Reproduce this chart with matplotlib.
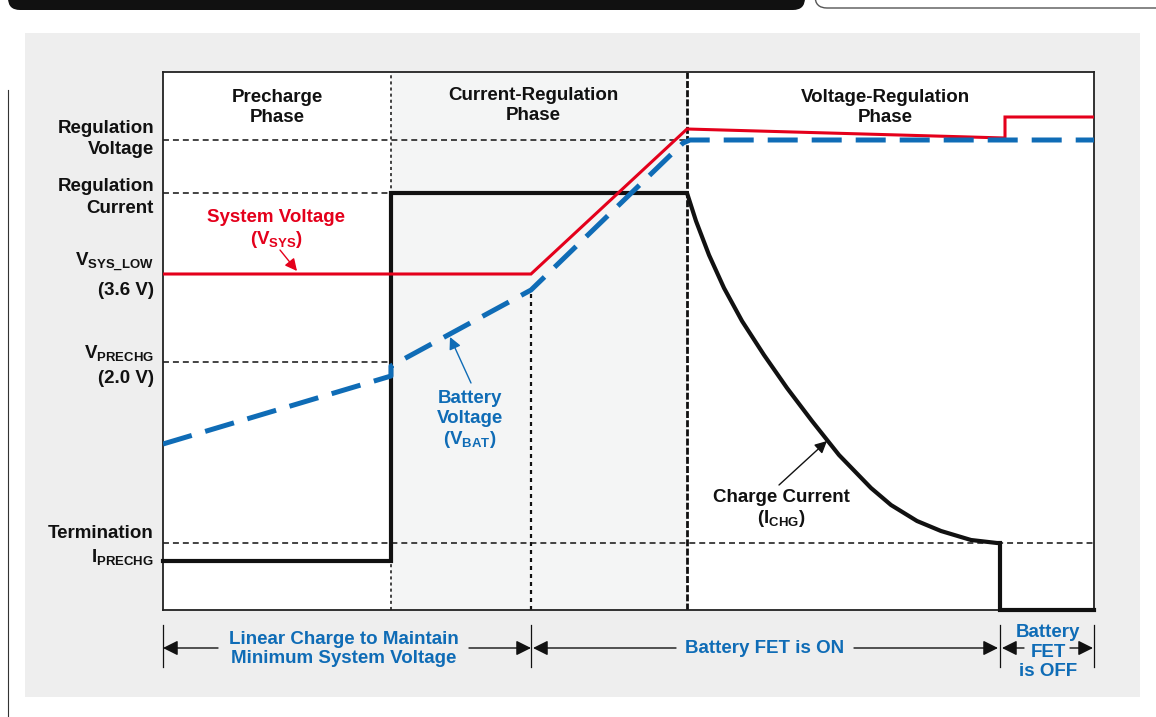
import matplotlib.pyplot as plt
from matplotlib.patches import Rectangle, FancyBboxPatch

# Eixo de tempo (unidades arbitrárias) e níveis (unidades arbitrárias)
fases_t = [0, 228, 368, 524, 837, 931]

t_vsys = [0, 368, 524, 842, 842, 931]
v_sys = [336, 336, 481, 472, 493, 493]

t_vbat = [0, 228, 228, 368, 520, 527, 931]
v_bat = [166, 234, 244, 320, 467, 470, 470]

t_ichg = [0, 228, 228, 524, 533, 546, 561, 579, 601, 624, 649, 676,
          708, 728, 754, 778, 808, 834, 837, 837, 931]
i_chg = [49, 49, 417, 417, 389, 355, 322, 289, 255, 222, 189, 155,
         122, 105, 89, 79, 70, 67, 67, 0, 0]

# Níveis de referência
nivel_reg_v = 470
nivel_reg_i = 417
nivel_vprechg = 248
nivel_term = 67

AZUL = '#0f6cb6'
VERMELHO = '#e4001b'
PRETO = '#111111'

plt.rcParams['font.family'] = ['Liberation Sans', 'DejaVu Sans']
plt.rcParams['font.weight'] = 'bold'
plt.rcParams['mathtext.fontset'] = 'custom'
plt.rcParams['mathtext.rm'] = 'Liberation Sans:bold'
plt.rcParams['mathtext.it'] = 'Liberation Sans:bold'
plt.rcParams['mathtext.bf'] = 'Liberation Sans:bold'
plt.rcParams['mathtext.default'] = 'rm'

FS = 13.5


def linhas(ax, x, ys, textos, cor=PRETO, ha='center', fs=FS):
    # escreve cada linha separadamente, alinhada pela linha de base
    for y, s in zip(ys, textos):
        ax.text(x, y, s, ha=ha, va='baseline', color=cor, fontsize=fs,
                fontweight='bold', clip_on=False)


def seta(ax, x0, y0, x1, y1, cor, lw=1.0, ms=12, head='0.6', width='0.3'):
    ax.annotate('', xy=(x1, y1), xytext=(x0, y0), annotation_clip=False,
                arrowprops=dict(arrowstyle='-|>,head_length=%s,head_width=%s' % (head, width),
                                color=cor, lw=lw, mutation_scale=ms,
                                shrinkA=0, shrinkB=0))


def fundo(fig):
    bg = fig.add_axes([0, 0, 1, 1])
    bg.set_xlim(0, 1156)
    bg.set_ylim(717, 0)
    bg.axis('off')
    bg.add_patch(Rectangle((25, 33), 1115, 664, fc='#eeeeee', ec='none'))
    bg.add_patch(FancyBboxPatch((8, -40), 797, 50,
                                boxstyle='round,pad=0,rounding_size=12',
                                fc='#111111', ec='none'))
    bg.add_patch(FancyBboxPatch((815, -40), 400, 48,
                                boxstyle='round,pad=0,rounding_size=12',
                                fc='none', ec='#555555', lw=1))
    bg.plot([8, 8], [90, 717], color='#333333', lw=0.8)


def grafico():
    fig = plt.figure(figsize=(11.56, 7.17), dpi=100)
    fundo(fig)

    ax = fig.add_axes([163 / 1156, 107 / 717, 931 / 1156, 538 / 717])
    ax.set_xlim(0, 931)
    ax.set_ylim(0, 538)
    ax.set_xticks([])
    ax.set_yticks([])
    for s in ax.spines.values():
        s.set_color('#222222')
        s.set_linewidth(1.3)

    # fase de regulação de corrente sombreada
    ax.axvspan(fases_t[1], fases_t[3], color='#f4f5f5', zorder=0, lw=0)

    # linhas de referência tracejadas
    ax.plot([0, fases_t[3]], [nivel_reg_v] * 2, color=PRETO, lw=1.1, dashes=(3.9, 2.6))
    ax.plot([0, fases_t[1]], [nivel_reg_i] * 2, color=PRETO, lw=1.1, dashes=(3.9, 2.6))
    ax.plot([0, fases_t[1]], [nivel_vprechg] * 2, color=PRETO, lw=1.1, dashes=(3.9, 2.6))
    ax.plot([0, fases_t[5]], [nivel_term] * 2, color=PRETO, lw=1.1, dashes=(3.9, 2.6))

    # separadores de fase
    ax.axvline(fases_t[1], color=PRETO, lw=1.1, dashes=(2, 2))
    ax.axvline(fases_t[3], color=PRETO, lw=2, dashes=(2.5, 0.8))
    ax.plot([fases_t[2]] * 2, [0, v_bat[3]], color=PRETO, lw=1.6, dashes=(1.8, 1.8))

    # curvas
    ax.plot(t_ichg, i_chg, color=PRETO, lw=3, zorder=4, clip_on=False,
            solid_joinstyle='miter')
    ax.plot(t_vsys, v_sys, color=VERMELHO, lw=2.2, zorder=5, solid_joinstyle='miter')
    ax.plot(t_vbat, v_bat, color=AZUL, lw=3.6, dashes=(6, 2.8), zorder=6)

    # títulos das fases
    linhas(ax, 114, [508, 488], ['Precharge', 'Phase'])
    linhas(ax, 370, [510, 490], ['Current-Regulation', 'Phase'])
    linhas(ax, 722, [508, 488], ['Voltage-Regulation', 'Phase'])

    # rótulos do eixo vertical
    linhas(ax, -9, [477, 456], ['Regulation', 'Voltage'], ha='right')
    linhas(ax, -9, [419, 397], ['Regulation', 'Current'], ha='right')
    linhas(ax, -9, [343, 315], [r'V$_{SYS\_LOW}$', '(3.6 V)'], ha='right')
    linhas(ax, -9, [252, 227], [r'V$_{PRECHG}$', '(2.0 V)'], ha='right')
    linhas(ax, -9, [72, 48], ['Termination', r'I$_{PRECHG}$'], ha='right')

    # anotações das curvas
    linhas(ax, 113, [388, 366], ['System Voltage', r'(V$_{SYS}$)'], cor=VERMELHO)
    seta(ax, 117, 360, 134, 339, VERMELHO)
    linhas(ax, 307, [207, 187, 166], ['Battery', 'Voltage', r'(V$_{BAT}$)'], cor=AZUL)
    seta(ax, 308, 227, 287, 273, AZUL)
    linhas(ax, 618, [108, 87], ['Charge Current', r'(I$_{CHG}$)'])
    seta(ax, 616, 125, 664, 169, PRETO)

    # faixas inferiores
    for x in [0, 368, 837, 931]:
        ax.plot([x, x], [-15, -57], color=PRETO, lw=0.9, clip_on=False)
    yb = -38
    seta(ax, 55, yb, 0, yb, PRETO, ms=15)
    seta(ax, 306, yb, 368, yb, PRETO, ms=15)
    seta(ax, 513, yb, 370, yb, PRETO, ms=15)
    seta(ax, 691, yb, 835, yb, PRETO, ms=15)
    seta(ax, 861, yb, 839, yb, PRETO, ms=15)
    seta(ax, 907, yb, 930, yb, PRETO, ms=15)
    linhas(ax, 181, [-34, -53], ['Linear Charge to Maintain', 'Minimum System Voltage'], cor=AZUL)
    linhas(ax, 602, [-43], ['Battery FET is ON'], cor=AZUL)
    linhas(ax, 885, [-27, -47, -66], ['Battery', 'FET', 'is OFF'], cor=AZUL)

    fig.savefig('out.png', dpi=100)


def main():
    grafico()


if __name__ == "__main__":
    main()
